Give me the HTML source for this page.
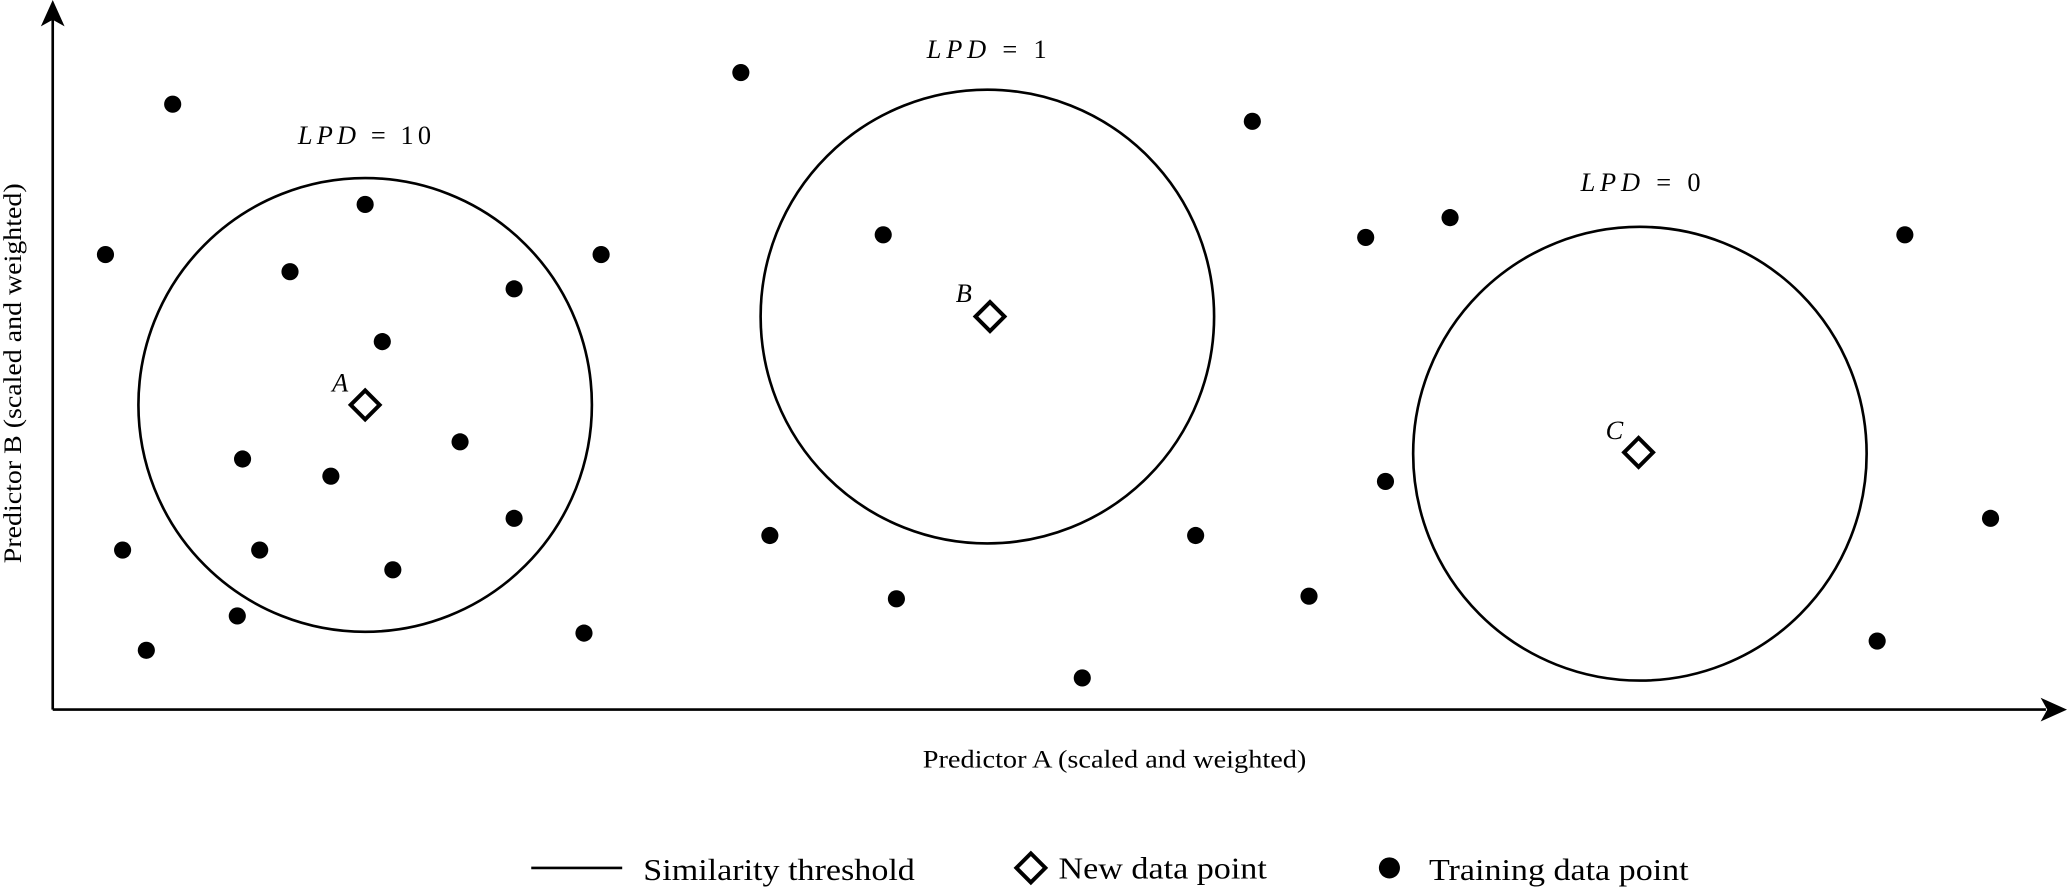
<!DOCTYPE html>
<html><head><style>html,body{margin:0;padding:0;background:#fff;}svg{display:block}</style></head>
<body>
<svg width="2067" height="889" viewBox="0 0 1568 674" preserveAspectRatio="none" xmlns="http://www.w3.org/2000/svg">
<g stroke="#000" stroke-width="2" fill="none">
<line x1="40" y1="538" x2="40" y2="14"/>
<line x1="40" y1="538" x2="1552" y2="538"/>
<circle cx="277" cy="307" r="172"/>
<circle cx="749" cy="240" r="172"/>
<circle cx="1244" cy="344" r="172"/>
<line x1="403" y1="658" x2="472" y2="658"/>
</g>
<polygon points="40,0 31,20 40,15 49,20" fill="#000"/>
<polygon points="1568,538 1548,529 1553,538 1548,547" fill="#000"/>
<g fill="#000">
<circle cx="131" cy="79" r="6.5"/><circle cx="80" cy="193" r="6.5"/><circle cx="277" cy="155" r="6.5"/>
<circle cx="220" cy="206" r="6.5"/><circle cx="390" cy="219" r="6.5"/><circle cx="456" cy="193" r="6.5"/>
<circle cx="290" cy="259" r="6.5"/><circle cx="349" cy="335" r="6.5"/><circle cx="184" cy="348" r="6.5"/>
<circle cx="251" cy="361" r="6.5"/><circle cx="390" cy="393" r="6.5"/><circle cx="93" cy="417" r="6.5"/>
<circle cx="197" cy="417" r="6.5"/><circle cx="298" cy="432" r="6.5"/><circle cx="180" cy="467" r="6.5"/>
<circle cx="111" cy="493" r="6.5"/><circle cx="443" cy="480" r="6.5"/>
<circle cx="562" cy="55" r="6.5"/><circle cx="670" cy="178" r="6.5"/><circle cx="950" cy="92" r="6.5"/>
<circle cx="584" cy="406" r="6.5"/><circle cx="680" cy="454" r="6.5"/><circle cx="907" cy="406" r="6.5"/>
<circle cx="821" cy="514" r="6.5"/><circle cx="993" cy="452" r="6.5"/>
<circle cx="1036" cy="180" r="6.5"/><circle cx="1100" cy="165" r="6.5"/><circle cx="1445" cy="178" r="6.5"/>
<circle cx="1051" cy="365" r="6.5"/><circle cx="1510" cy="393" r="6.5"/><circle cx="1424" cy="486" r="6.5"/>
<circle cx="1054" cy="658" r="8"/>
</g>
<g fill="#fff" stroke="#000" stroke-width="3">
<polygon points="277,296 288,307 277,318 266,307"/>
<polygon points="751,229 762,240 751,251 740,240"/>
<polygon points="1243,332 1254,343 1243,354 1232,343"/>
<polygon points="782,647 793,658 782,669 771,658"/>
</g>
<g font-family="Liberation Serif, serif" fill="#000">
<g font-size="20" font-style="italic">
<text x="226" y="109" textLength="101" lengthAdjust="spacing">LPD <tspan font-style="normal">= 10</tspan></text>
<text x="703" y="44" textLength="91" lengthAdjust="spacing">LPD <tspan font-style="normal">= 1</tspan></text>
<text x="1199" y="145" textLength="91" lengthAdjust="spacing">LPD <tspan font-style="normal">= 0</tspan></text>
<text x="252" y="297">A</text>
<text x="725" y="229">B</text>
<text x="1218" y="333">C</text>
</g>
<text x="700" y="582" font-size="19" textLength="291" lengthAdjust="spacingAndGlyphs">Predictor A (scaled and weighted)</text>
<text transform="translate(16,427) rotate(-90)" font-size="19" textLength="288" lengthAdjust="spacingAndGlyphs">Predictor B (scaled and weighted)</text>
<g font-size="23">
<text x="488" y="667" textLength="206" lengthAdjust="spacingAndGlyphs">Similarity threshold</text>
<text x="803" y="666" textLength="158" lengthAdjust="spacingAndGlyphs">New data point</text>
<text x="1084" y="667" textLength="197" lengthAdjust="spacingAndGlyphs">Training data point</text>
</g>
</g>
</svg>
</body></html>
